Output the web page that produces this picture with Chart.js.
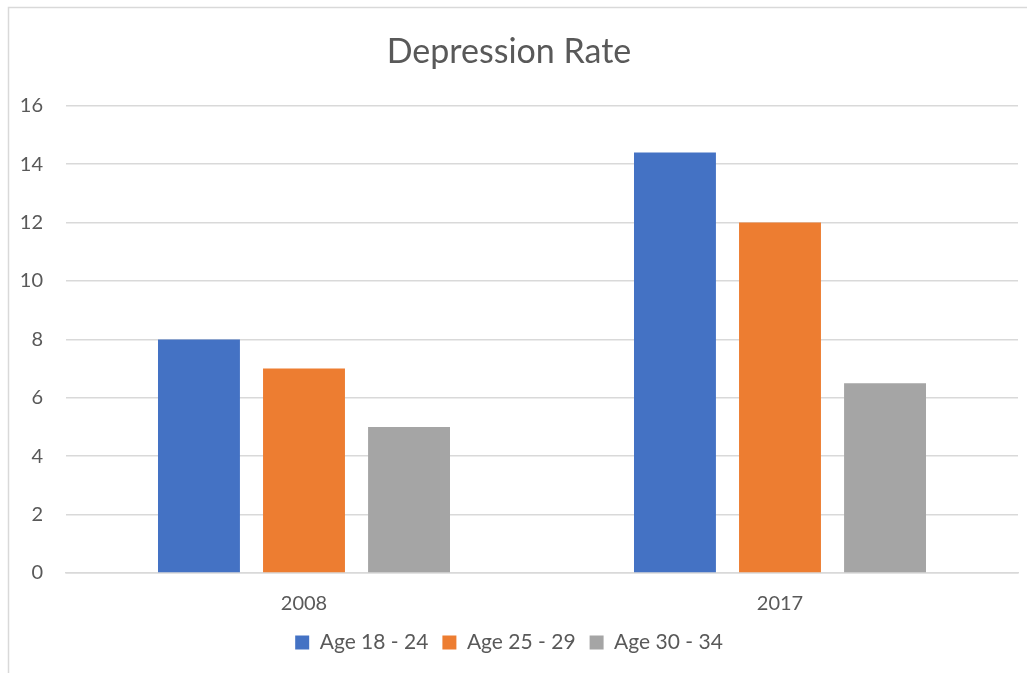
<!DOCTYPE html>
<html>
<head>
<meta charset="utf-8">
<script src="https://cdn.jsdelivr.net/npm/chart.js@4"></script>
<style>
  html, body { margin: 0; padding: 0; background: #fff; overflow: hidden; }
  #wrap { width: 1027px; height: 673px; }
</style>
</head>
<body>
<div id="wrap"><canvas id="myChart"></canvas></div>
<script>
const years = ["2008", "2017"];
const seriesNames = ["Age 18 - 24", "Age 25 - 29", "Age 30 - 34"];
const age18to24 = [8, 14.4];
const age25to29 = [7, 12];
const age30to34 = [5, 6.5];
const colors = ["#4472C4", "#ED7D31", "#A5A5A5"];

const txt = "#595959";
const font = "Lato, 'Open Sans', sans-serif";

// grey frame around the chart, like the office chart box
const frame = {
  id: "frame",
  beforeDraw(chart) {
    const c = chart.ctx;
    c.save();
    c.strokeStyle = "#d9d9d9";
    c.lineWidth = 1.5;
    c.strokeRect(8.5, 7.5, 1100, 700);
    c.restore();
  },
};

const ctx = document.getElementById("myChart");
new Chart(ctx, {
  type: "bar",
  data: {
    labels: years,
    datasets: [age18to24, age25to29, age30to34].map((d, i) => ({
      label: seriesNames[i],
      data: d,
      backgroundColor: colors[i],
      categoryPercentage: 0.662,
      barPercentage: 0.78,
    })),
  },
  options: {
    responsive: true,
    maintainAspectRatio: false,
    animation: false,
    layout: { padding: { left: 0, right: 9, top: 0, bottom: 10 } },
    scales: {
      y: {
        min: 0,
        max: 16,
        ticks: { stepSize: 2, color: txt, font: { family: font, size: 20 }, padding: 23 },
        grid: { color: "#d9d9d9", lineWidth: 1.5, drawTicks: false },
        border: { display: false },
        afterFit: (s) => { s.width = 66; },
      },
      x: {
        ticks: { color: txt, font: { family: font, size: 20 }, padding: 19 },
        grid: { display: false, drawTicks: false },
        border: { color: "#d9d9d9", width: 1.5 },
        afterFit: (s) => { s.height = 45; },
      },
    },
    plugins: {
      title: {
        display: true,
        text: "Depression Rate",
        color: txt,
        font: { family: font, size: 34, weight: "normal" },
        padding: { top: 32, bottom: 33 },
      },
      legend: {
        position: "bottom",
        labels: {
          color: txt,
          font: { family: font, size: 21 },
          boxWidth: 14,
          boxHeight: 14,
          padding: 14,
        },
      },
      tooltip: { enabled: false },
    },
  },
  plugins: [frame],
});
</script>
</body>
</html>
